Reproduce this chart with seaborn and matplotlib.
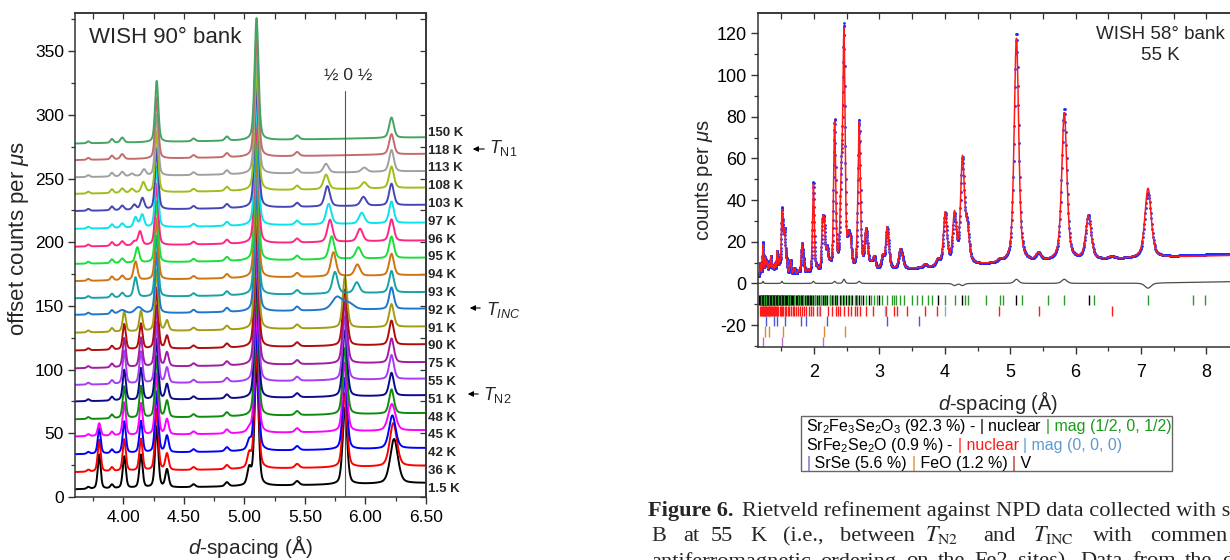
import numpy as np
import matplotlib
matplotlib.use("Agg")
import matplotlib.pyplot as plt
import matplotlib.transforms as mtransforms
from matplotlib.patches import Rectangle, FancyArrowPatch
from matplotlib.ticker import MultipleLocator, FormatStrFormatter
import seaborn as sns

# ---------------------------------------------------------------------------
# Left panel: WISH 90 deg bank, variable-temperature scans (bottom to top)
# ---------------------------------------------------------------------------
temps = ["1.5 K", "36 K", "42 K", "45 K", "48 K", "51 K", "55 K", "75 K", "90 K", "91 K",
         "92 K", "93 K", "94 K", "95 K", "96 K", "97 K", "103 K", "108 K", "113 K", "118 K", "150 K"]
offsets = [6.0, 19.5, 33.5, 47.5, 61.0, 75.0, 88.0, 101.0, 115.0, 129.0,
           143.0, 156.0, 169.5, 183.0, 196.5, 210.5, 224.5, 238.0, 251.0, 264.5, 277.5]
trace_colors = ["#000000", "#ff0000", "#0000ff", "#ff00ff", "#0e8c0e", "#0a0a8a", "#a63cf5",
                "#a21ca0", "#b00c0c", "#a39b12", "#1d78cc", "#16a3a8", "#cf7410", "#18df3a",
                "#ff2585", "#08e3ec", "#4545b5", "#9dbf18", "#a0a0a0", "#c46c6c", "#43a463"]
baseline_slope = 1.7

# nuclear reflections present at every temperature
nuc_d = [3.71, 3.905, 4.275, 4.58, 4.855, 5.10, 5.435]
nuc_h = [1.5, 3.0, 48.0, 2.2, 3.2, 96.0, 3.2]

# reflection near 6.2 A (broadened / shifted at low temperature)
p62_d = [6.236, 6.230, 6.222, 6.218, 6.215, 6.215, 6.215, 6.215, 6.215, 6.215, 6.215,
         6.215, 6.215, 6.215, 6.215, 6.215, 6.215, 6.215, 6.215, 6.215, 6.215]
p62_h = [35, 34, 26, 21, 19, 18, 19, 19, 19, 18, 17, 17, 17, 17, 17, 17, 17, 17, 17, 16, 16]
p62_w = [0.075, 0.070, 0.065, 0.070, 0.046, 0.046, 0.046, 0.046, 0.046, 0.046, 0.046,
         0.046, 0.046, 0.046, 0.046, 0.046, 0.046, 0.046, 0.046, 0.046, 0.046]

# commensurate magnetic reflections (1.5 K ... 91 K)
com_d = [3.80, 4.007, 4.145, 4.36, 5.04, 5.83]
com_h = [
    [27, 25, 26, 14, 13, 60],   # 1.5 K
    [25, 25, 25, 13, 11, 58],   # 36 K
    [20, 25, 25, 13, 7, 56],    # 42 K
    [10, 26, 25, 12, 3, 54],    # 45 K
    [0, 25, 25, 13, 0, 52],     # 48 K
    [0, 24, 25, 12, 0, 52],     # 51 K
    [0, 26, 25, 12, 0, 50],     # 55 K
    [0, 23, 23, 11, 0, 48],     # 75 K
    [0, 20, 20, 10, 0, 44],     # 90 K
    [0, 16, 16, 8, 0, 40],      # 91 K
]

# incommensurate / high-temperature reflections (92 K ... 150 K)
inc_pos = [
    [3.99, 4.07, 4.125, 5.765, 5.860],   # 92 K
    [3.99, 4.07, 4.100, 5.748, 5.928],   # 93 K
    [3.99, 4.07, 4.100, 5.735, 5.933],   # 94 K
    [3.99, 4.07, 4.115, 5.721, 5.941],   # 95 K
    [3.99, 4.09, 4.137, 5.707, 5.955],   # 96 K
    [3.99, 4.10, 4.155, 5.696, 5.969],   # 97 K
    [3.99, 4.09, 4.157, 5.685, 5.983],   # 103 K
    [3.99, 4.07, 4.165, 5.674, 5.990],   # 108 K
    [3.99, 4.07, 4.170, 5.674, 5.990],   # 113 K
    [3.99, 4.07, 4.170, 5.674, 5.990],   # 118 K
    [3.99, 4.07, 4.170, 5.674, 5.990],   # 150 K
]
inc_h = [
    [3.0, 0.0, 5.0, 10.0, 5.0],
    [3.5, 0.0, 15.5, 17.0, 8.5],
    [3.5, 0.0, 14.5, 19.0, 9.0],
    [3.5, 0.0, 12.0, 18.0, 9.0],
    [3.5, 3.0, 11.0, 17.5, 10.0],
    [3.5, 8.0, 10.0, 16.0, 8.5],
    [3.5, 4.0, 9.0, 16.0, 7.0],
    [3.5, 3.0, 8.0, 11.5, 5.0],
    [3.5, 2.0, 5.0, 7.0, 3.5],
    [4.0, 0.0, 0.0, 0.0, 0.0],
    [4.0, 0.0, 0.0, 0.0, 0.0],
]
inc_w_scale = [1.9, 1.0, 1.0, 1.0, 1.0, 1.0, 1.0, 1.0, 1.0, 1.0, 1.0]
half_zero_half_d = 5.83

# ---------------------------------------------------------------------------
# Right panel: WISH 58 deg bank, 55 K Rietveld fit
# ---------------------------------------------------------------------------
ref_d = [1.18, 1.22, 1.255, 1.28, 1.31, 1.34, 1.37, 1.40, 1.436, 1.47, 1.509, 1.53, 1.552,
         1.58, 1.64, 1.70, 1.76, 1.815, 1.84, 1.90, 1.99, 2.05, 2.13, 2.156, 2.20, 2.24,
         2.315, 2.40, 2.42, 2.458, 2.526, 2.558, 2.69, 2.789, 2.81, 2.87, 2.92, 3.05, 3.116,
         3.14, 3.315, 3.35, 3.70, 3.895, 4.006, 4.148, 4.27, 4.343, 4.843, 5.095, 5.433,
         5.827, 6.196, 6.554, 7.107]
calc_h = [6, 15, 8, 6, 5, 9, 4, 5, 11, 6, 28, 13, 19,
          6, 7, 3, 2, 14, 5, 2, 43, 2, 21, 20, 10, 3,
          71, 6, 36, 111, 12, 11, 71, 13, 9, 3, 6, 6, 18,
          4, 8, 4, 1.5, 3, 25, 24, 50, 16, 1.2, 108, 3.5,
          71, 21, 1, 33.5]
obs_h = [6, 16, 8, 6, 5, 9, 4, 5, 11, 6, 29, 13, 19,
         6, 7, 3, 2, 14, 5, 2, 44, 2, 21, 20, 10, 3,
         72, 6, 36, 113, 12, 11, 72, 13, 9, 3, 6, 6, 18,
         4, 8, 4, 1.5, 3, 25, 23, 49, 16, 1.2, 110, 3.5,
         73, 21, 1, 31.0]
bg_d = [1.14, 1.5, 2.0, 2.5, 3.0, 3.5, 4.0, 4.5, 5.0, 5.5, 6.0, 6.5, 7.0, 7.5, 8.0, 8.5, 9.0]
bg_calc = [3.0, 3.3, 3.8, 4.8, 6.0, 7.0, 7.9, 8.8, 9.5, 10.2, 10.8, 11.4, 12.0, 12.6, 13.1, 13.5, 13.9]
bg_obs = [3.0, 3.3, 3.8, 4.8, 6.0, 7.0, 7.9, 8.8, 9.5, 10.2, 10.8, 11.5, 12.2, 13.0, 13.8, 14.4, 14.8]

# reflection markers
sfso_nuclear = [1.165, 1.175, 1.186, 1.196, 1.204, 1.214, 1.226, 1.233, 1.244, 1.256, 1.263,
                1.274, 1.287, 1.297, 1.305, 1.318, 1.326, 1.338, 1.349, 1.357, 1.371, 1.382,
                1.394, 1.404, 1.416, 1.429, 1.441, 1.452, 1.466, 1.478, 1.489, 1.503, 1.517,
                1.531, 1.544, 1.557, 1.572, 1.588, 1.602, 1.617, 1.633, 1.651, 1.666, 1.682,
                1.701, 1.718, 1.737, 1.757, 1.776, 1.795, 1.818, 1.838, 1.861, 1.885, 1.907,
                1.932, 1.959, 1.984, 2.013, 2.041, 2.069, 2.102, 2.132, 2.167, 2.199, 2.237,
                2.272, 2.313, 2.351, 2.395, 2.437, 2.485, 2.531, 2.583, 2.635, 2.69, 2.75,
                2.84, 3.0, 3.9, 4.27, 5.095, 6.2]
sfso_magnetic = [1.19, 1.23, 1.27, 1.31, 1.36, 1.40, 1.45, 1.50, 1.54, 1.60, 1.64, 1.69, 1.75,
                 1.79, 1.83, 1.87, 1.92, 1.97, 2.02, 2.06, 2.10, 2.15, 2.19, 2.25, 2.29, 2.34,
                 2.41, 2.46, 2.52, 2.57, 2.62, 2.66, 2.72, 2.80, 2.87, 2.92, 2.97, 3.04, 3.12,
                 3.19, 3.23, 3.26, 3.315, 3.38, 3.50, 3.58, 3.65, 3.74, 3.80, 4.0, 4.148, 4.316,
                 4.358, 4.63, 4.843, 4.894, 5.185, 5.58, 5.817, 6.274, 7.107, 7.79, 7.98]
sf2so_nuclear = [1.18, 1.19, 1.20, 1.212, 1.222, 1.233, 1.245, 1.256, 1.268, 1.28, 1.292, 1.305,
                 1.318, 1.332, 1.346, 1.36, 1.375, 1.39, 1.406, 1.422, 1.439, 1.456, 1.474,
                 1.493, 1.512, 1.532, 1.553, 1.575, 1.598, 1.622, 1.647, 1.673, 1.70, 1.728,
                 1.757, 1.787, 1.818, 1.85, 1.883, 1.917, 1.952, 1.99, 2.04, 2.09, 2.22, 2.27,
                 2.33, 2.37, 2.40, 2.46, 2.52, 2.56, 2.62, 2.66, 2.71, 2.79, 2.895, 3.095, 3.22,
                 3.274, 3.42, 3.70, 3.884, 4.833, 5.433, 6.554]
sf2so_magnetic = [2.08, 3.09, 4.007]
srse_ticks = [1.27, 1.39, 1.43, 1.56, 1.80, 1.88, 2.20, 3.11, 3.60]
feo_ticks = [1.255, 1.31, 1.52, 2.15, 2.48]
v_ticks = [1.225, 1.51, 2.13]

# ---------------------------------------------------------------------------
sns.set_theme(style="ticks")
plt.rcParams.update({
    "font.family": ["Liberation Sans", "DejaVu Sans"],
    "mathtext.fontset": "custom",
    "mathtext.rm": "Liberation Sans",
    "mathtext.it": "Liberation Sans:italic",
    "mathtext.bf": "Liberation Sans:bold",
    "mathtext.sf": "Liberation Sans",
    "axes.unicode_minus": False,
    "axes.edgecolor": "#333333",
    "axes.linewidth": 1.1,
    "xtick.color": "#333333",
    "ytick.color": "#333333",
    "xtick.labelcolor": "black",
    "ytick.labelcolor": "black",
})

W, H = 1230, 560
fig = plt.figure(figsize=(W / 100, H / 100), dpi=100)
fig.patch.set_facecolor("white")


def fx(x):
    return x / W


def fy(y):
    return 1 - y / H


def pv(x, d0, h, fwhm, eta):
    z = (x - d0) / fwhm
    return h * ((1 - eta) * np.exp(-4 * np.log(2) * z ** 2) + eta / (1 + 4 * z ** 2))


def style_axes(ax, xmaj, xmin, ymaj, ymin, size, xpad, ypad):
    ax.xaxis.set_major_locator(MultipleLocator(xmaj))
    ax.xaxis.set_minor_locator(MultipleLocator(xmin))
    ax.yaxis.set_major_locator(MultipleLocator(ymaj))
    ax.yaxis.set_minor_locator(MultipleLocator(ymin))
    ax.tick_params(which="both", direction="out", top=False, right=False, labelsize=size)
    ax.tick_params(which="major", length=5, width=1.0)
    ax.tick_params(which="minor", length=3, width=0.9)
    ax.tick_params(axis="x", pad=xpad)
    ax.tick_params(axis="y", pad=ypad)
    ax.set_xlabel("")
    ax.set_ylabel("")
    secx = ax.secondary_xaxis("top")
    secx.xaxis.set_major_locator(MultipleLocator(xmaj))
    secx.xaxis.set_minor_locator(MultipleLocator(xmin))
    secx.tick_params(which="both", direction="in", labeltop=False, length=4, width=0.9)
    secy = ax.secondary_yaxis("right")
    secy.yaxis.set_major_locator(MultipleLocator(ymaj))
    secy.yaxis.set_minor_locator(MultipleLocator(ymin))
    secy.tick_params(which="both", direction="in", labelright=False, length=4, width=0.9)


# ----------------------------- left panel ----------------------------------
ax1 = fig.add_axes([fx(75), fy(497), (426 - 75) / W, (497 - 13) / H])
d1 = np.linspace(3.6, 6.5, 2600)
for i, label in enumerate(temps):
    y = offsets[i] + baseline_slope * (d1 - 3.6)
    for dd, hh in zip(nuc_d, nuc_h):
        y = y + pv(d1, dd, hh, 0.0075 * dd, 0.4)
    y = y + pv(d1, p62_d[i], p62_h[i], p62_w[i], 0.4)
    if i < len(com_h):
        for dd, hh in zip(com_d, com_h[i]):
            y = y + pv(d1, dd, hh, 0.0075 * dd, 0.4)
    else:
        j = i - len(com_h)
        for dd, hh in zip(inc_pos[j], inc_h[j]):
            y = y + pv(d1, dd, hh, 0.009 * dd * inc_w_scale[j], 0.4)
    sns.lineplot(x=d1, y=y, ax=ax1, color=trace_colors[i], linewidth=1.4)

ax1.set_xlim(3.6, 6.5)
ax1.set_ylim(0, 380)
style_axes(ax1, 0.5, 0.25, 50, 25, 12.5, 4.5, 3)
ax1.xaxis.set_major_formatter(FormatStrFormatter("%.2f"))
ax1.plot([half_zero_half_d, half_zero_half_d], [0, 318.5], color="#555555", lw=0.8)
ax1.text(half_zero_half_d + 0.026, 331, "½ 0 ½", ha="center", va="center", fontsize=12.5)
ax1.text(3.716, 360.5, "WISH 90° bank", ha="left", va="center", fontsize=16)

lab_tr = mtransforms.blended_transform_factory(ax1.transAxes, ax1.transData)
label_y = np.linspace(6.5, 286.0, len(temps))
for ly, label in zip(label_y, temps):
    ax1.text(1.006, ly, label, transform=lab_tr, ha="left", va="center",
             fontsize=9.5, fontweight="bold", clip_on=False)

for (y_ar, x_head, x_tail, x_txt, y_base, txt) in [
        (149, 470, 487, 489, 153, r"$T_{\mathrm{N1}}$"),
        (308, 467, 483, 486, 315, r"$T_{INC}$"),
        (394, 465, 481, 483, 400, r"$T_{\mathrm{N2}}$")]:
    fig.add_artist(FancyArrowPatch(
        (fx(x_tail), fy(y_ar)), (fx(x_head), fy(y_ar)), transform=fig.transFigure,
        arrowstyle="-|>", mutation_scale=8, color="black", lw=0.8))
    fig.text(fx(x_txt), fy(y_base), txt, ha="left", va="baseline", fontsize=13)

fig.text(fx(19), fy(238), r"offset counts per $\mu$s", rotation=90, ha="center",
         va="center", fontsize=16)
fig.text(fx(250), fy(547), r"$d$-spacing (Å)", ha="center", va="center", fontsize=15)

# ----------------------------- right panel ---------------------------------
ax2 = fig.add_axes([fx(757.8), fy(347), 514 / W, (347 - 13) / H])
d2 = np.geomspace(1.14, 9.0, 2000)
calc = np.interp(d2, bg_d, bg_calc)
obs = np.interp(d2, bg_d, bg_obs)
for dd, hc, ho in zip(ref_d, calc_h, obs_h):
    calc = calc + pv(d2, dd, hc, 0.016 * dd, 0.5)
    obs = obs + pv(d2, dd, ho, 0.016 * dd, 0.5)

tick_rows = [
    (sfso_nuclear, "#000000", -10.4, -5.6),
    (sfso_magnetic, "#2a9a2a", -10.4, -5.6),
    (sf2so_nuclear, "#ff1a1a", -15.7, -10.7),
    (sf2so_magnetic, "#7aaee0", -15.7, -10.7),
    (srse_ticks, "#4a5ad0", -20.5, -15.7),
    (feo_ticks, "#e08a30", -25.6, -20.5),
    (v_ticks, "#c070c0", -30.4, -25.9),
]
for pos, col, lo, hi in tick_rows:
    ax2.vlines(pos, lo, hi, colors=col, lw=1.0)

sns.scatterplot(x=d2, y=obs, ax=ax2, s=4, color="#1a2bff", linewidth=0, marker="o")
sns.lineplot(x=d2, y=calc, ax=ax2, color="#ff1a1a", linewidth=1.1)
sns.lineplot(x=d2, y=obs - calc, ax=ax2, color="#4c4c42", linewidth=0.9)

ax2.set_xlim(1.14, 9.0)
ax2.set_ylim(-30.5, 129.8)
style_axes(ax2, 1, 0.5, 20, 10, 13, 7, 3)
ax2.set_xticks([2, 3, 4, 5, 6, 7, 8])
ax2.text(7.29, 119.5, "WISH 58° bank", ha="center", va="center", fontsize=13.5)
ax2.text(7.29, 109.6, "55 K", ha="center", va="center", fontsize=13.5)

fig.text(fx(704), fy(180), r"counts per $\mu$s", rotation=90, ha="center", va="center",
         fontsize=14.5)
fig.text(fx(998), fy(402), r"$d$-spacing (Å)", ha="center", va="center", fontsize=14.5)

# legend box with coloured phase markers
renderer = fig.canvas.get_renderer()


def width_px(s, **kw):
    t = fig.text(0, 0, s, **kw)
    w = t.get_window_extent(renderer=renderer).width
    t.remove()
    return w


def draw_runs(x0, y_base, runs, **kw):
    x = x0
    for s, c in runs:
        fig.text(fx(x), fy(y_base), s, color=c, ha="left", va="baseline", **kw)
        x += width_px(s + "|", **kw) - width_px("|", **kw)


fig.add_artist(Rectangle((fx(801), fy(471)), (1172 - 801) / W, (471 - 416) / H,
                         transform=fig.transFigure, fill=False, ec="#666666", lw=1.0))
leg_kw = dict(fontsize=11.5)
draw_runs(806.4, 431.5, [("Sr$_2$Fe$_3$Se$_2$O$_3$ (92.3 %) - | nuclear ", "black"),
                         ("| mag (1/2, 0, 1/2)", "#1a9a1a")], **leg_kw)
draw_runs(806.4, 449.8, [("SrFe$_2$Se$_2$O (0.9 %) - ", "black"),
                         ("| nuclear ", "#ff1a1a"),
                         ("| mag (0, 0, 0)", "#5b9bd5")], **leg_kw)
draw_runs(806.4, 468.0, [("|", "#5a5ad0"), (" SrSe (5.6 %) ", "black"),
                         ("|", "#e0802a"), (" FeO (1.2 %) ", "black"),
                         ("|", "#b01c1c"), (" V", "black")], **leg_kw)

# caption (the column runs on past the right edge)
cap_kw = dict(fontsize=16.1, family=["Liberation Serif", "DejaVu Serif"], math_fontfamily="stix")
fig.text(fx(733), fy(516), "Figure 6.", ha="right", va="baseline", fontweight="bold", **cap_kw)
fig.text(fx(742), fy(516), "Rietveld refinement against NPD data collected with s",
         ha="left", va="baseline", **cap_kw)
line2 = [("B", 651), ("at", 683), ("55", 711), ("K", 750), ("(i.e.,", 783), ("between", 840),
         (r"$T_{\mathrm{N2}}$", 925), ("and", 983), (r"$T_{\mathrm{INC}}$", 1033),
         ("with", 1093), ("commen", 1150)]
for word, xw in line2:
    fig.text(fx(xw), fy(541), word, ha="left", va="baseline", **cap_kw)
line3 = ["antiferromagnetic", "ordering", "on", "the", "Fe2", "sites).", "Data", "from",
         "the", "d"]
widths = [width_px(w, **cap_kw) for w in line3]
gap = (1222 - 651 - sum(widths[:-1])) / (len(line3) - 1)
xw = 651
for word, wd in zip(line3, widths):
    fig.text(fx(xw), fy(566.5), word, ha="left", va="baseline", **cap_kw)
    xw += wd + gap

fig.savefig("out.png", dpi=100, facecolor="white")
